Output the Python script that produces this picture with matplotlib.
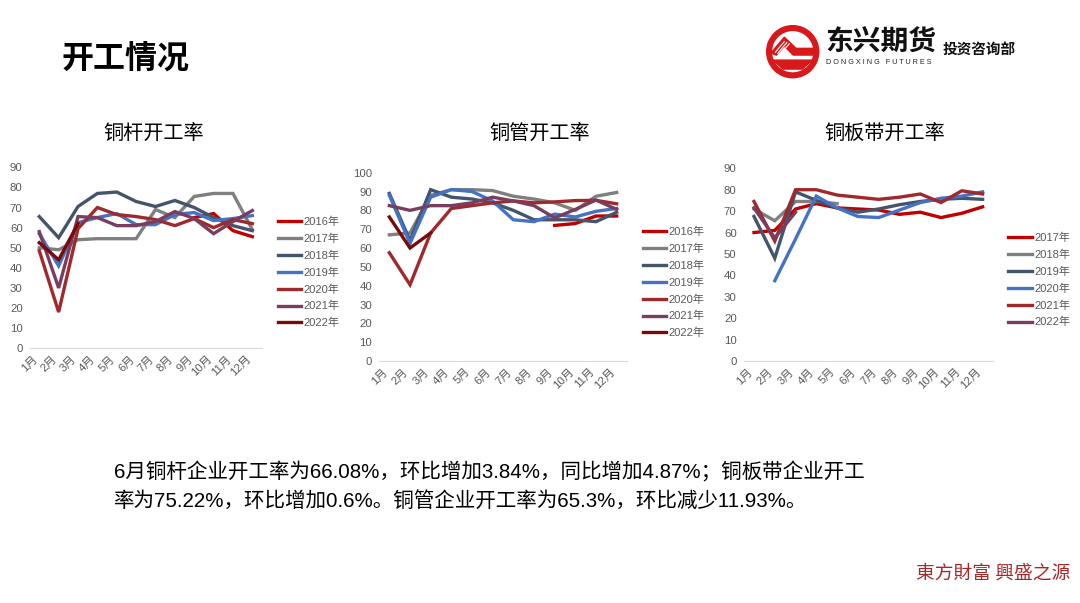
import numpy as np
import matplotlib
matplotlib.use("Agg")
from matplotlib import pyplot as plt
from matplotlib.patches import Wedge, Polygon

plt.rcParams['font.family'] = ['Liberation Sans', 'Noto Sans CJK SC', 'DejaVu Sans']

# %%
# 数据
months = ['1月', '2月', '3月', '4月', '5月', '6月', '7月', '8月', '9月', '10月', '11月', '12月']
nan = np.nan

# 铜杆开工率
rod_years = ['2016年', '2017年', '2018年', '2019年', '2020年', '2021年', '2022年']
rod_2016 = [nan, nan, nan, nan, nan, nan, nan, nan, 65, 67, 58.5, 55.5]
rod_2017 = [50, 49, 54, 54.5, 54.5, 54.5, 69, 65, 75.5, 77, 77, 59]
rod_2018 = [65.5, 55, 70.5, 77, 77.7, 73, 70.5, 73.5, 70, 65, 61, 58.5]
rod_2019 = [57, 41, 62.5, 65, 67, 61.5, 61.5, 66.5, 67.5, 63.5, 64.5, 66]
rod_2020 = [48.5, 18, 59.5, 70, 66.5, 65.5, 64, 61, 64.5, 60, 64, 62]
rod_2021 = [58, 30, 65.5, 65, 61, 61, 63, 68, 64.5, 57, 63, 68.5]
rod_2022 = [52.5, 44, 62, nan, nan, nan, nan, nan, nan, nan, nan, nan]

# 铜管开工率
tube_years = ['2016年', '2017年', '2018年', '2019年', '2020年', '2021年', '2022年']
tube_2016 = [nan, nan, nan, nan, nan, nan, nan, nan, 72, 73, 77, 77]
tube_2017 = [67, 68, 88, 91, 91, 90.5, 87.5, 86, 84, 80, 87.5, 89.5]
tube_2018 = [89, 64, 91, 87, 86, 84, 80, 75, 75, 75, 74, 79]
tube_2019 = [88, 62.5, 87, 91, 90, 85, 75, 74, 78, 76.5, 79.5, 81]
tube_2020 = [57.5, 40.5, 68, 81, 82.5, 84, 85, 84, 84.5, 85.2, 85.3, 83.5]
tube_2021 = [82.5, 80, 82.5, 82.5, 84, 87, 85, 82.5, 76, 80.5, 85.5, 80.5]
tube_2022 = [76.5, 60, 68, nan, nan, nan, nan, nan, nan, nan, nan, nan]

# 铜板带开工率
strip_years = ['2017年', '2018年', '2019年', '2020年', '2021年', '2022年']
strip_2017 = [60, 61, 71, 73.5, 71.5, 71, 70.5, 68.5, 69.5, 67, 69, 72]
strip_2018 = [71, 65.5, 74.5, 74.5, 73.5, nan, nan, nan, nan, nan, nan, nan]
strip_2019 = [67.5, 48, 79, 75, 71.5, 69.5, 71, 73, 74.5, 75.5, 76, 75.5]
strip_2020 = [nan, 37.5, 57, 77, 71.5, 67.5, 67, 70.5, 74, 76, 77, 79]
strip_2021 = [74.5, 56, 80, 80, 77.5, 76.5, 75.5, 76.5, 78, 74, 79.5, 78]
strip_2022 = [71.5, 57.5, 69.5, nan, nan, nan, nan, nan, nan, nan, nan, nan]

colors = ['#C00000', '#7F7F7F', '#44546A', '#4472C4', '#A0292B', '#7B3D5D', '#7A0A0A']

W, H = 1080, 603


def px_axes(fig, x0, y0, x1, y1):
    # 像素坐标 -> figure 坐标
    return fig.add_axes([x0 / W, 1 - y1 / H, (x1 - x0) / W, (y1 - y0) / H])


def draw_chart(ax, series, labels, ymax, ystep, leg_xy):
    x = np.arange(1, 13)
    for i, (s, lab) in enumerate(zip(series, labels)):
        ax.plot(x, s, color=colors[i], lw=2.4, label=lab, solid_joinstyle='miter')
    ax.set_xlim(0.5, 12.5)
    ax.set_ylim(0, ymax)
    ax.set_yticks(np.arange(0, ymax + 1, ystep))
    ax.set_xticks(x)
    ax.set_xticklabels(months, rotation=45, ha='right', va='top')
    ax.tick_params(length=0, labelsize=8.2, labelcolor='#595959', pad=5)
    ax.tick_params(axis='x', pad=4)
    for sp in ['top', 'right', 'left']:
        ax.spines[sp].set_visible(False)
    ax.spines['bottom'].set_color('#D9D9D9')
    ax.spines['bottom'].set_linewidth(0.8)
    ax.patch.set_alpha(0)
    leg = ax.legend(loc='upper left', bbox_to_anchor=(leg_xy[0] / W, 1 - leg_xy[1] / H),
                    bbox_transform=ax.figure.transFigure, frameon=False, fontsize=8,
                    handlelength=2.1, handletextpad=0.25, labelspacing=0.58,
                    borderpad=0, borderaxespad=0)
    for t in leg.get_texts():
        t.set_color('#595959')
    for h in leg.get_lines():
        h.set_linewidth(2.4)


fig = plt.figure(figsize=(10.8, 6.03), dpi=100)

# 标题
fig.text(62 / W, 1 - 60 / H, '开工情况', fontsize=23, fontweight='bold', ha='left', va='center')

# logo
lax = px_axes(fig, 792.7 - 28, 51.7 - 28, 792.7 + 28, 51.7 + 28)
lax.set_xlim(-1, 1)
lax.set_ylim(-1, 1)
lax.axis('off')
lax.add_patch(Wedge((0, 0), 0.93, 0, 360, width=0.17, color='#D7191C'))
lax.add_patch(Polygon([(-0.78, -0.05), (-0.3, 0.52), (0.12, 0.12), (0.8, 0.12),
                       (0.8, -0.12), (0.02, -0.12), (-0.3, 0.2), (-0.58, -0.12)],
                      closed=True, color='#D7191C'))
lax.add_patch(Polygon([(-0.7, -0.3), (0.7, -0.3), (0.35, -0.62), (-0.35, -0.62)],
                      closed=True, color='#D7191C'))
for d in [0.0, 0.09, 0.18]:
    lax.plot([-0.62 + d, -0.3 + d], [-0.02 - d * 0.4, 0.36 - d * 0.4], color='white', lw=0.8)

fig.text(825 / W, 1 - 44 / H, '东兴期货', fontsize=20, fontweight='heavy', ha='left', va='center',
         color='#111111')
fig.text(826 / W, 1 - 63 / H, 'D O N G X I N G   F U T U R E S', fontsize=5.2, ha='left',
         va='center', color='#222222')
fig.text(943 / W, 1 - 51 / H, '投资咨询部', fontsize=10.5, fontweight='bold', ha='left',
         va='center', color='#111111')

# 三个图
ax1 = px_axes(fig, 29.6, 167.3, 262, 348.3)
draw_chart(ax1, [rod_2016, rod_2017, rod_2018, rod_2019, rod_2020, rod_2021, rod_2022],
           rod_years, 90, 10, (277.7, 217))
fig.text(154 / W, 1 - 133 / H, '铜杆开工率', fontsize=14.5, ha='center', va='center')

ax2 = px_axes(fig, 379, 172.7, 627, 361)
draw_chart(ax2, [tube_2016, tube_2017, tube_2018, tube_2019, tube_2020, tube_2021, tube_2022],
           tube_years, 100, 10, (642.7, 227))
fig.text(540 / W, 1 - 133 / H, '铜管开工率', fontsize=14.5, ha='center', va='center')

ax3 = px_axes(fig, 743.6, 168.3, 993, 361)
draw_chart(ax3, [strip_2017, strip_2018, strip_2019, strip_2020, strip_2021, strip_2022],
           strip_years, 90, 10, (1008.3, 233))
fig.text(885 / W, 1 - 133 / H, '铜板带开工率', fontsize=14.5, ha='center', va='center')

# 说明文字
fig.text(114 / W, 1 - 471.5 / H,
         '6月铜杆企业开工率为66.08%，环比增加3.84%，同比增加4.87%；铜板带企业开工',
         fontsize=14.8, ha='left', va='center')
fig.text(114 / W, 1 - 501 / H,
         '率为75.22%，环比增加0.6%。铜管企业开工率为65.3%，环比减少11.93%。',
         fontsize=14.8, ha='left', va='center')

# 右下角
fig.text(1070 / W, 1 - 573 / H, '東方財富 興盛之源', fontsize=13.5, ha='right', va='center',
         color='#A8282A', family=['Noto Sans CJK TC', 'DejaVu Sans'])

fig.savefig('out.png', dpi=100)
